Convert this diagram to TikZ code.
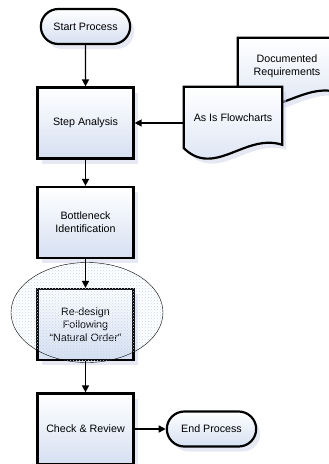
\documentclass[tikz,border=0pt]{standalone}
\usepackage{fontspec}
\setmainfont{Liberation Sans}
\usetikzlibrary{arrows.meta, positioning, shapes.misc, shapes.geometric, shadows, patterns, backgrounds}

\definecolor{boxblue}{RGB}{214,224,242}
\definecolor{shadowblue}{RGB}{205,212,232}
\definecolor{ditherblue}{RGB}{196,214,236}

\begin{document}
\begin{tikzpicture} [x = 1pt, y = 1pt, on grid,
    font = \fontsize{10.7}{12.7}\selectfont,
    boxfill/.style = {top color = white, bottom color = boxblue,
        drop shadow = {shadow xshift = 4pt, shadow yshift = -5pt, fill = shadowblue}},
    terminal/.style = {rounded rectangle, draw, line width = 2.2pt, boxfill,
        minimum width = 96pt, minimum height = 35pt},
    stepbox/.style = {rectangle, draw, line width = 2.2pt, boxfill,
        minimum width = 96pt, minimum height = 71pt, align = center},
    docnode/.style = {minimum width = 98pt, align = center},
    docshape/.style = {draw, line width = 2.2pt, boxfill},
    highlight/.style = {ellipse, draw, thin, pattern = crosshatch dots,
        pattern color = ditherblue, minimum width = 152pt, minimum height = 100pt},
    arrow/.style = {-{Triangle[length = 7pt, width = 7pt]}, line width = 1.4pt}]

\useasboundingbox (0,0) rectangle (329,-464);

\node (start) [terminal] at (85.5,-26.5) {Start Process};
\node (analysis) [stepbox, below = 96.5pt of start] {Step Analysis};
\node (bottleneck) [stepbox, below = 99.5pt of analysis] {Bottleneck\\Identification};
\node (redesign) [stepbox, below = 102pt of bottleneck] {Re-design\\Following\\``Natural Order''};
\node (check) [stepbox, below = 104.5pt of redesign] {Check \& Review};
\node (finish) [terminal, right = 126pt of check] {End Process};

\node (docreq) [docnode, minimum height = 57pt] at (287,-66.5) {Documented\\Requirements};
\node (asis) [docnode, minimum height = 61pt] at (233,-117.5) {As Is Flowcharts};

% paper outlines behind the text
\begin{scope}[on background layer]
\path [docshape] (docreq.north west) -- (docreq.north east) -- ++(0,-54)
    .. controls +(-37,9) and +(31,-30) .. (docreq.south west) -- cycle;
\path [docshape] (asis.north west) -- (asis.north east) -- ++(0,-58)
    .. controls +(-37,12) and +(31,-30) .. (asis.south west) -- cycle;
\end{scope}

\node (focus) [highlight] at (87,-312.5) {};

\path [arrow]
    (start) edge (analysis);
\path [arrow]
    (asis.west |- analysis) edge (analysis);
\path [arrow]
    (analysis) edge (bottleneck);
\path [arrow]
    (bottleneck) edge (redesign);
\path [arrow]
    (redesign) edge (check);
\path [arrow]
    (check) edge (finish);
\end{tikzpicture}
\end{document}
